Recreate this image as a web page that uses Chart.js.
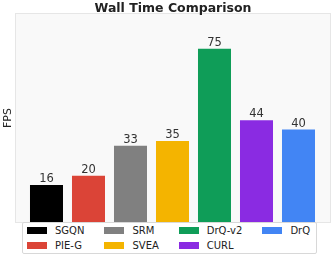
<!DOCTYPE html>
<html>
<head>
<meta charset="utf-8">
<script src="https://cdn.jsdelivr.net/npm/chart.js@4"></script>
<style>
  body { margin: 0; background: #fff; }
  #wrap { position: relative; width: 332px; height: 257px; }
  #legend {
    position: absolute; left: 22px; top: 222px; width: 289px; height: 30px;
    background: #fff; border: 1px solid #d8d8d8; border-radius: 2px;
    display: grid; grid-auto-flow: column; grid-template-rows: 15px 15px;
    grid-auto-columns: max-content; column-gap: 20px;
    padding-left: 4px; box-sizing: content-box;
    font: 10px "DejaVu Sans"; color: #222;
  }
  #legend div { display: flex; align-items: center; }
  #legend span { display: inline-block; width: 20px; height: 7px; margin-right: 8px; }
</style>
</head>
<body>
<div id="wrap">
  <canvas id="fpsChart" width="332" height="257"></canvas>
  <div id="legend"></div>
</div>
<script>
const methods = ["SGQN", "PIE-G", "SRM", "SVEA", "DrQ-v2", "CURL", "DrQ"];
const fps = [16, 20, 33, 35, 75, 44, 40];
const colors = ["#000000", "#db4437", "#808080", "#f4b400", "#0f9d58", "#8a2be2", "#4285f4"];

// legend in matplotlib order (column by column)
let legend = document.getElementById("legend");
for (let i = 0; i < methods.length; i++) {
    let item = document.createElement("div");
    item.innerHTML = `<span style="background:${colors[i]}"></span>${methods[i]}`;
    legend.appendChild(item);
}

const decor = {
    id: "decor",
    beforeDraw(chart) {
        const { ctx, chartArea: a } = chart;
        ctx.save();
        ctx.fillStyle = "#f9f9f9";
        ctx.fillRect(a.left, a.top, a.right - a.left, a.bottom - a.top);
        ctx.strokeStyle = "#e6e6e6";
        ctx.lineWidth = 1;
        ctx.strokeRect(a.left - 0.5, a.top - 0.5, a.right - a.left + 1, a.bottom - a.top + 1);
        // title
        ctx.fillStyle = "#222";
        ctx.font = "bold 12.5px 'DejaVu Sans'";
        ctx.textAlign = "center";
        ctx.textBaseline = "alphabetic";
        ctx.fillText("Wall Time Comparison", (a.left + a.right) / 2, 12);
        // y label
        ctx.font = "11px 'DejaVu Sans'";
        ctx.translate(11, (a.top + a.bottom) / 2);
        ctx.rotate(-Math.PI / 2);
        ctx.fillText("FPS", 0, 0);
        ctx.restore();
    },
    afterDatasetsDraw(chart) {
        const { ctx } = chart;
        const meta = chart.getDatasetMeta(0);
        ctx.save();
        ctx.fillStyle = "#333";
        ctx.font = "11.5px 'DejaVu Sans'";
        ctx.textAlign = "center";
        ctx.textBaseline = "alphabetic";
        meta.data.forEach((bar, i) => {
            ctx.fillText(String(fps[i]), bar.x, bar.y - 3);
        });
        ctx.restore();
    }
};

new Chart(document.getElementById("fpsChart"), {
    type: "bar",
    data: {
        datasets: [{
            data: fps.map((v, i) => ({ x: i, y: v })),
            backgroundColor: colors,
            borderWidth: 0,
            barPercentage: 0.786,
            categoryPercentage: 1
        }]
    },
    options: {
        responsive: false,
        animation: false,
        layout: { padding: { left: 16, right: 2, top: 14, bottom: 35 } },
        plugins: { legend: { display: false }, tooltip: { enabled: false } },
        scales: {
            x: { type: "linear", min: -0.726, max: 6.75, offset: false, display: false },
            y: { min: 0, max: 90, display: false }
        }
    },
    plugins: [decor]
});
</script>
</body>
</html>
